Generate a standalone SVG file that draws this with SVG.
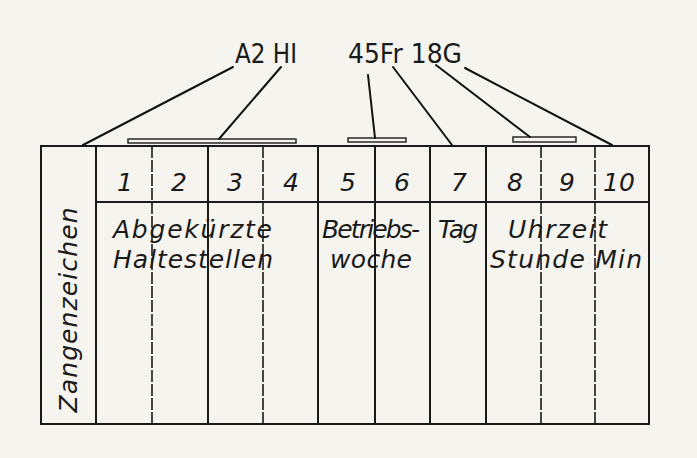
<svg xmlns="http://www.w3.org/2000/svg" width="697" height="458" viewBox="0 0 697 458">
<style>
.bg{fill:#f6f4ef}
.ln{stroke:#1a1a1a;stroke-width:2;fill:none;stroke-linecap:square}
.dl{stroke:#1a1a1a;stroke-width:1.6;fill:none;stroke-dasharray:12 2}
.br{stroke:#1a1a1a;stroke-width:1.4;fill:none}
.cn{stroke:#111;stroke-width:2;fill:none;stroke-linecap:round}
.t{font-family:"DejaVu Sans","Liberation Sans",sans-serif;font-style:italic;fill:#1a1a1a;font-size:25px}
.n{font-family:"DejaVu Sans","Liberation Sans",sans-serif;font-style:italic;fill:#1a1a1a;font-size:25px;text-anchor:middle}
.s{font-family:"DejaVu Sans","Liberation Sans",sans-serif;fill:#1a1a1a;font-size:26px}
</style>
<rect class="bg" x="0" y="0" width="697" height="458"/>

<g id="stamp-labels">
  <text id="label-a2hi" class="s" x="235" y="63" textLength="62" lengthAdjust="spacingAndGlyphs">A2 HI</text>
  <text id="label-45fr18g" class="s" x="348" y="63" textLength="114" lengthAdjust="spacingAndGlyphs">45Fr 18G</text>
</g>

<g id="table">
  <rect class="ln" x="41" y="146" width="608" height="278"/>
  <line class="ln" x1="96" y1="146" x2="96" y2="424"/>
  <line class="ln" x1="96" y1="202" x2="649" y2="202"/>
  <line class="dl" x1="152" y1="146" x2="152" y2="424"/>
  <line class="ln" x1="208" y1="146" x2="208" y2="424"/>
  <line class="dl" x1="263" y1="146" x2="263" y2="424"/>
  <line class="ln" x1="318" y1="146" x2="318" y2="424"/>
  <line class="ln" x1="375" y1="146" x2="375" y2="424"/>
  <line class="ln" x1="430" y1="146" x2="430" y2="424"/>
  <line class="ln" x1="486" y1="146" x2="486" y2="424"/>
  <line class="dl" x1="541" y1="146" x2="541" y2="424"/>
  <line class="dl" x1="595" y1="146" x2="595" y2="424"/>

  <g id="col-zangenzeichen">
    <text class="t" transform="translate(77,310) rotate(-90)" text-anchor="middle" textLength="205" lengthAdjust="spacing">Zangenzeichen</text>
  </g>
  <g id="numbers">
    <text class="n" x="125" y="191">1</text>
    <text class="n" x="179" y="191">2</text>
    <text class="n" x="235" y="191">3</text>
    <text class="n" x="291" y="191">4</text>
    <text class="n" x="348" y="191">5</text>
    <text class="n" x="402" y="191">6</text>
    <text class="n" x="459" y="191">7</text>
    <text class="n" x="515" y="191">8</text>
    <text class="n" x="567" y="191">9</text>
    <text class="n" x="619" y="191">10</text>
  </g>
  <g id="col-haltestellen">
    <text class="t" x="113" y="238" textLength="159" lengthAdjust="spacing">Abgekürzte</text>
    <text class="t" x="113" y="268" textLength="160" lengthAdjust="spacing">Haltestellen</text>
  </g>
  <g id="col-betriebswoche">
    <text class="t" x="322" y="238" textLength="98" lengthAdjust="spacing">Betriebs-</text>
    <text class="t" x="330" y="268" textLength="82" lengthAdjust="spacing">woche</text>
  </g>
  <g id="col-tag">
    <text class="t" x="438" y="238" textLength="40" lengthAdjust="spacing">Tag</text>
  </g>
  <g id="col-uhrzeit">
    <text class="t" x="508" y="238" textLength="99" lengthAdjust="spacing">Uhrzeit</text>
    <text class="t" x="490" y="268" textLength="152" lengthAdjust="spacing">Stunde Min</text>
  </g>
</g>

<g id="brackets">
  <rect class="br" x="128" y="139" width="168" height="4"/>
  <rect class="br" x="348" y="138" width="58" height="4"/>
  <rect class="br" x="513" y="137" width="63" height="5"/>
</g>

<g id="connectors">
  <line class="cn" x1="233" y1="67" x2="83" y2="145"/>
  <line class="cn" x1="281" y1="67" x2="219" y2="139"/>
  <line class="cn" x1="368" y1="75" x2="375" y2="138"/>
  <line class="cn" x1="393" y1="67" x2="452" y2="145"/>
  <line class="cn" x1="436" y1="65" x2="530" y2="137"/>
  <line class="cn" x1="465" y1="68" x2="612" y2="145"/>
</g>
</svg>
